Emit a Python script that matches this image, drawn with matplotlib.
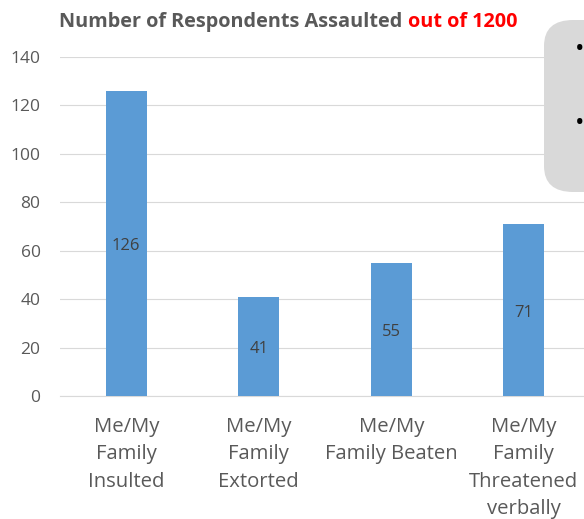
import matplotlib
matplotlib.use("Agg")
import matplotlib.pyplot as plt
from matplotlib.patches import FancyBboxPatch

categories = ["Me/My\nFamily\nInsulted", "Me/My\nFamily\nExtorted", "Me/My\nFamily Beaten", "Me/My\nFamily\nThreatened\nverbally"]
values = [126, 41, 55, 71]
yticks = [0, 20, 40, 60, 80, 100, 120, 140]

plt.rcParams['font.family'] = ['Open Sans', 'DejaVu Sans']
fig = plt.figure(figsize=(5.84, 5.19), dpi=100)
ax = fig.add_axes([60/584, 123/519, 530/584, 339/519])
x = list(range(len(values)))
ax.bar(x, values, width=0.31, color="#5B9BD5", zorder=3)
for xi, v in zip(x, values):
    ax.text(xi, v/2 - 1.2, str(v), ha="center", va="center", fontsize=12, color="#404040", zorder=4)
ax.set_xlim(-0.5, 3.5)
ax.set_ylim(0, 140)
ax.set_yticks(yticks)
ax.set_yticklabels([str(t) for t in yticks], fontsize=12.5, color="#595959")
ax.set_xticks(x)
ax.set_xticklabels(categories, fontsize=14.6, color="#595959", linespacing=1.5, va="top")
ax.tick_params(axis="both", length=0)
ax.tick_params(axis="y", pad=14)
ax.tick_params(axis="x", pad=15)
ax.grid(axis="y", color="#D9D9D9", linewidth=0.8, zorder=0)
for s in ["top", "right", "left"]:
    ax.spines[s].set_visible(False)
ax.spines["bottom"].set_color("#D9D9D9")
ax.spines["bottom"].set_linewidth(0.8)

# title in two colours
ty = 1 - 22/519
t1 = fig.text(0.5, ty, "Number of Respondents Assaulted ", fontsize=14.3, fontweight="bold", color="#595959", ha="left", va="center")
t2 = fig.text(0, ty, "out of 1200", fontsize=14.3, fontweight="bold", color="#FF0000", ha="left", va="center")
fig.canvas.draw()
r = fig.canvas.get_renderer()
bb1 = t1.get_window_extent(r)
bb2 = t2.get_window_extent(r)
total = bb1.width + bb2.width
center = 288
left = center - total/2
t1.set_position((left/584, ty))
t2.set_position(((left + bb1.width)/584, ty))

# gray rounded box at right (cut off)
box = FancyBboxPatch((544/584, (519-192)/519), 0.2, 172/519, boxstyle="round,pad=0,rounding_size=0.05",
                     transform=fig.transFigure, facecolor="#D9D9D9", edgecolor="none", zorder=5)
fig.patches.append(box)
fig.text(580/584, 1-50/519, "•", fontsize=18, color="black", ha="center", va="center", zorder=6)
fig.text(580/584, 1-124/519, "•", fontsize=18, color="black", ha="center", va="center", zorder=6)

fig.savefig("out.png", dpi=100)
